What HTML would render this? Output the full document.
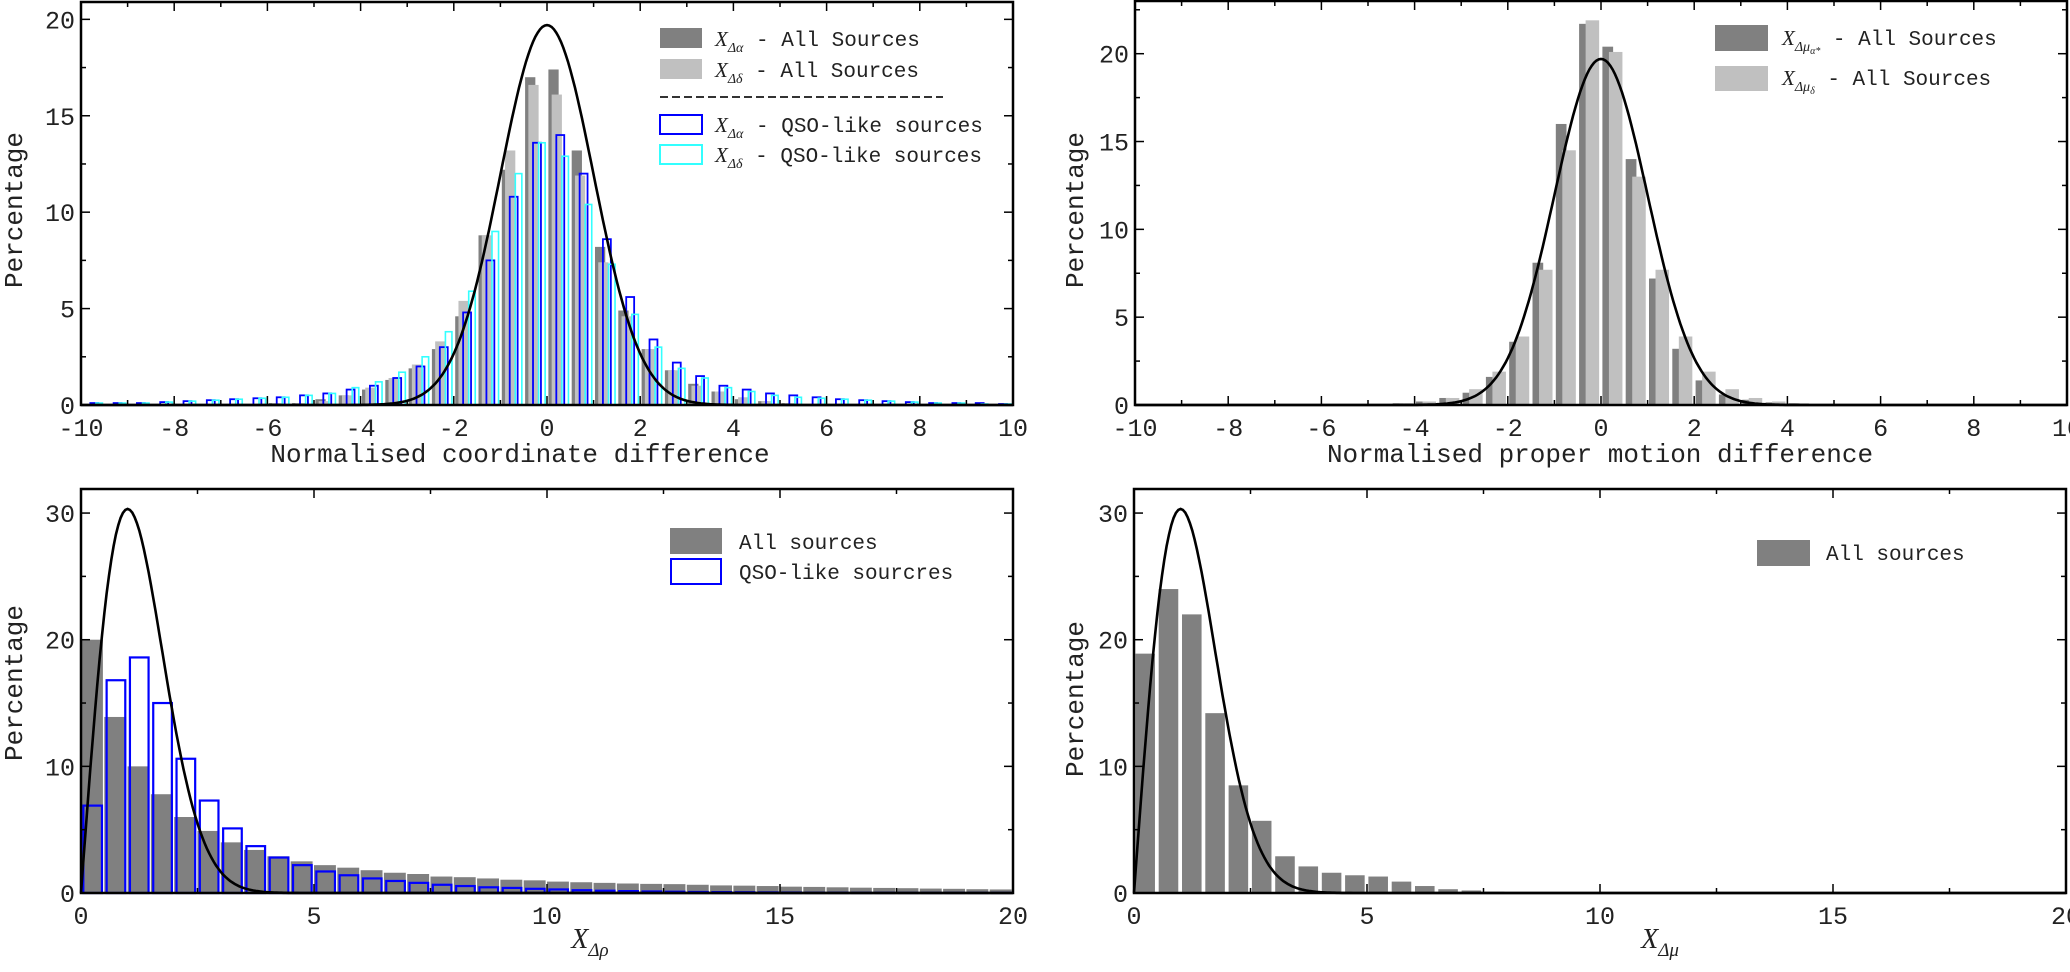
<!DOCTYPE html>
<html><head><meta charset="utf-8"><style>
html,body{margin:0;padding:0;background:#fff}
svg{display:block}
text{font-family:"Liberation Mono",monospace;fill:#222}
.tick{font-size:25px}
.lab{font-size:26px}
.leg{font-size:21px}
.it{font-family:"Liberation Serif",serif;font-style:italic}
</style></head><body>
<svg id="fig" width="2070" height="972" viewBox="0 0 2070 972" xmlns="http://www.w3.org/2000/svg"></svg>
<script>
// ---------- data ----------
const bins1Start = -10;
const p1Dark  = [0.05,0.05,0.05,0.05,0.05,0.05,0.05,0.05,0.1,0.1,0.3,0.5,0.8,1.3,1.9,2.9,4.6,8.8,12.2,17.0,17.4,13.2,8.2,4.9,2.9,1.8,1.1,0.7,0.3,0.2,0.1,0.05,0.05,0.05,0.05,0.05,0.05,0.05,0.05,0.05];
const p1Light = [0.05,0.05,0.05,0.05,0.05,0.05,0.05,0.05,0.1,0.1,0.2,0.5,0.9,1.4,2.1,3.3,5.4,8.8,13.2,16.6,16.1,11.9,7.4,4.6,2.9,1.8,1.0,0.7,0.4,0.2,0.1,0.05,0.05,0.05,0.05,0.05,0.05,0.05,0.05,0.05];
const p1Blue  = [0.1,0.1,0.1,0.15,0.2,0.25,0.3,0.35,0.4,0.5,0.6,0.8,1.0,1.4,2.0,3.0,4.8,7.5,10.8,13.6,14.0,12.0,8.6,5.6,3.4,2.2,1.5,1.0,0.8,0.6,0.5,0.4,0.3,0.25,0.2,0.15,0.1,0.1,0.1,0.05];
const p1Cyan  = [0.1,0.1,0.1,0.15,0.2,0.25,0.3,0.35,0.4,0.5,0.6,0.9,1.2,1.7,2.5,3.8,5.9,9.0,12.0,13.6,12.9,10.4,7.3,4.7,3.0,1.9,1.4,0.9,0.7,0.5,0.4,0.35,0.3,0.25,0.2,0.15,0.1,0.1,0.05,0.05];
const p2Dark  = [0,0,0,0,0,0,0,0,0,0,0.05,0.1,0.2,0.4,0.7,1.6,3.6,8.1,16.0,21.7,20.4,14.0,7.2,3.2,1.4,0.6,0.3,0.15,0.1,0.05,0,0,0,0,0,0,0,0,0,0];
const p2Light = [0,0,0,0,0,0,0,0,0,0,0.05,0.1,0.2,0.4,0.9,1.9,3.9,7.7,14.5,21.9,20.1,13.0,7.7,3.9,1.9,0.9,0.4,0.2,0.1,0.05,0,0,0,0,0,0,0,0,0,0];
const p3Gray  = [20.0,13.9,10.0,7.8,6.0,4.9,4.0,3.4,2.9,2.5,2.2,2.0,1.8,1.6,1.5,1.3,1.25,1.15,1.05,1.0,0.9,0.85,0.8,0.75,0.72,0.7,0.65,0.6,0.58,0.55,0.5,0.48,0.45,0.42,0.4,0.38,0.35,0.33,0.3,0.28];
const p3Blue  = [6.9,16.8,18.6,15.0,10.6,7.3,5.1,3.7,2.8,2.2,1.7,1.4,1.15,0.95,0.8,0.65,0.55,0.45,0.4,0.33,0.28,0.22,0.18,0.15,0.12,0.1,0.08,0.07,0.06,0.05,0.04,0.03,0.03,0.02,0.02,0.01,0.01,0.01,0.01,0.01];
const p4Gray  = [18.9,24.0,22.0,14.2,8.5,5.7,2.9,2.1,1.6,1.4,1.3,0.9,0.55,0.3,0.2,0.1,0.08,0.05,0,0,0,0,0,0,0,0,0,0,0,0,0,0,0,0,0,0,0,0,0,0];
const gaussPeak = 19.7, gaussSigma = 1.0;
const rayScale = 50;
const xTicks1 = [-10,-8,-6,-4,-2,0,2,4,6,8,10];
const yTicks1 = [0,5,10,15,20];
const xTicks3 = [0,5,10,15,20];
const yTicks3 = [0,10,20,30];

const NS = "http://www.w3.org/2000/svg";
const fig = document.getElementById('fig');
function el(tag, attrs, parent){const e=document.createElementNS(NS,tag);for(const k in attrs)e.setAttribute(k,attrs[k]);(parent||fig).appendChild(e);return e;}

function makePanel(name, L, R, T, B, xmin, xmax, ymin, ymax){
  const g = el('g',{});
  
  
  const sx = v => L + (v - xmin) / (xmax - xmin) * (R - L);
  const sy = v => B - (v - ymin) / (ymax - ymin) * (B - T);
  return {g, sx, sy, L, R, T, B};
}
function bars(p, vals, x0, bw, off, w, style, nm){
  const g = el('g',{}, p.g);
  
  
  vals.forEach((v,i)=>{
    if(v<=0) return;
    const xa = p.sx(x0 + i*bw + off), xb = p.sx(x0 + i*bw + off + w);
    const r = el('rect',{x:xa,y:p.sy(v),width:xb-xa,height:p.sy(0)-p.sy(v)},g);
    for(const k in style) r.setAttribute(k,style[k]);
    
    
  });
}
function curve(p, f, a, b, nm){
  let d='';
  for(let i=0;i<=400;i++){const x=a+(b-a)*i/400;d+=(i?'L':'M')+p.sx(x).toFixed(1)+','+p.sy(f(x)).toFixed(1);}
  const c = el('path',{d:d,fill:'none',stroke:'#000','stroke-width':2.6},p.g);
  
  
}
function axes(p, xt, yt, xMinor, yMinor, xmin, xmax, ymin, ymax){
  const g = el('g',{}, p.g);
  
  
  el('rect',{x:p.L,y:p.T,width:p.R-p.L,height:p.B-p.T,fill:'none',stroke:'#000','stroke-width':2.5},g);
  for(let v=xmin; v<=xmax+1e-9; v+=xMinor){
    const major = xt.some(t=>Math.abs(t-v)<1e-9), len = major?9:5, x=p.sx(v);
    el('line',{x1:x,y1:p.B,x2:x,y2:p.B-len,stroke:'#000','stroke-width':1.5},g);
    el('line',{x1:x,y1:p.T,x2:x,y2:p.T+len,stroke:'#000','stroke-width':1.5},g);
  }
  for(let v=ymin; v<=ymax+1e-9; v+=yMinor){
    const major = yt.some(t=>Math.abs(t-v)<1e-9), len = major?9:5, y=p.sy(v);
    el('line',{x1:p.L,y1:y,x2:p.L+len,y2:y,stroke:'#000','stroke-width':1.5},g);
    el('line',{x1:p.R,y1:y,x2:p.R-len,y2:y,stroke:'#000','stroke-width':1.5},g);
  }
  xt.forEach(t=>{
    const tx = el('text',{x:p.sx(t),y:p.B+31,'text-anchor':'middle',class:'tick'},g);
    tx.textContent = t;  
  });
  yt.forEach(t=>{
    const tx = el('text',{x:p.L-6,y:p.sy(t)+9,'text-anchor':'end',class:'tick'},g);
    tx.textContent = t;  
  });
}
function ylabel(p, x, y){
  const t = el('text',{x:0,y:0,transform:`translate(${x},${y}) rotate(-90)`,'text-anchor':'middle',class:'lab'},p.g);
  t.textContent='Percentage';
   
}
function legBox(p, x, y, w, h, fill, stroke, nm){
  const r = el('rect',{x:x,y:y,width:w,height:h,fill:fill,stroke:stroke,'stroke-width':stroke==='none'?0:2},p.g);
   
}
function legText(p, x, y, html, nm){
  const t = el('text',{x:x,y:y,class:'leg'},p.g);
  t.innerHTML = html;
   
}
const gauss = x => gaussPeak*Math.exp(-x*x/(2*gaussSigma*gaussSigma));
const ray = x => rayScale*x*Math.exp(-x*x/2);

// ---------- panel 1 ----------
const p1 = makePanel('coordinate-panel',81,1013,2,405,-10,10,0,20.9);
bars(p1,p1Dark,bins1Start,0.5,0.03,0.22,{fill:'#808080'},'dark-bars');
bars(p1,p1Light,bins1Start,0.5,0.10,0.22,{fill:'#c0c0c0'},'light-bars');
bars(p1,p1Blue,bins1Start,0.5,0.20,0.17,{fill:'none',stroke:'#0000ff','stroke-width':1.8},'qso-alpha-bars');
bars(p1,p1Cyan,bins1Start,0.5,0.32,0.14,{fill:'none',stroke:'#33ffff','stroke-width':1.6},'qso-delta-bars');
curve(p1,gauss,-10,10,'gaussian-curve');
axes(p1,xTicks1,yTicks1,1,2.5,-10,10,0,20);
ylabel(p1,22,210);
(function(){const t=el('text',{x:520,y:462,'text-anchor':'middle',class:'lab'},p1.g);t.textContent='Normalised coordinate difference';})();
legBox(p1,660,28,42,20,'#808080','none','legend-swatch-dark');
legText(p1,715,46,'<tspan class="it">X</tspan><tspan class="it" font-size="14" dy="6">Δα</tspan><tspan dy="-6"> - All Sources</tspan>','legend-entry');
legBox(p1,660,59,42,20,'#c0c0c0','none','legend-swatch-light');
legText(p1,715,77,'<tspan class="it">X</tspan><tspan class="it" font-size="14" dy="6">Δδ</tspan><tspan dy="-6"> - All Sources</tspan>','legend-entry');
(function(){const l=el('line',{x1:660,y1:97,x2:943,y2:97,stroke:'#333','stroke-width':2,'stroke-dasharray':'8,4'},p1.g);})();
legBox(p1,660,115,42,19,'none','#0000ff','legend-swatch-blue');
legText(p1,715,132,'<tspan class="it">X</tspan><tspan class="it" font-size="14" dy="6">Δα</tspan><tspan dy="-6"> - QSO-like sources</tspan>','legend-entry');
legBox(p1,660,145,42,19,'none','#33ffff','legend-swatch-cyan');
legText(p1,715,162,'<tspan class="it">X</tspan><tspan class="it" font-size="14" dy="6">Δδ</tspan><tspan dy="-6"> - QSO-like sources</tspan>','legend-entry');

// ---------- panel 2 ----------
const p2 = makePanel('proper-motion-panel',1135,2067,1,405,-10,10,0,23);
bars(p2,p2Dark,bins1Start,0.5,0.03,0.23,{fill:'#808080'},'dark-bars');
bars(p2,p2Light,bins1Start,0.5,0.17,0.29,{fill:'#c0c0c0'},'light-bars');
curve(p2,gauss,-10,10,'gaussian-curve');
axes(p2,xTicks1,yTicks1,1,2.5,-10,10,0,22.5);
ylabel(p2,1083,210);
(function(){const t=el('text',{x:1600,y:462,'text-anchor':'middle',class:'lab'},p2.g);t.textContent='Normalised proper motion difference';})();
legBox(p2,1715,25,53,26,'#808080','none','legend-swatch-dark');
legText(p2,1782,45,'<tspan class="it">X</tspan><tspan class="it" font-size="14" dy="6">Δμ</tspan><tspan class="it" font-size="10" dy="3">α*</tspan><tspan dy="-9"> - All Sources</tspan>','legend-entry');
legBox(p2,1715,66,53,25,'#c0c0c0','none','legend-swatch-light');
legText(p2,1782,85,'<tspan class="it">X</tspan><tspan class="it" font-size="14" dy="6">Δμ</tspan><tspan class="it" font-size="10" dy="3">δ</tspan><tspan dy="-9"> - All Sources</tspan>','legend-entry');

// ---------- panel 3 ----------
const p3 = makePanel('rho-panel',81,1013,489,893,0,20,0,31.9);
bars(p3,p3Gray,0,0.5,0.0,0.47,{fill:'#808080'},'all-sources-bars');
bars(p3,p3Blue,0,0.5,0.05,0.40,{fill:'none',stroke:'#0000ff','stroke-width':2.2},'qso-bars');
curve(p3,ray,0,20,'rayleigh-curve');
axes(p3,xTicks3,yTicks3,2.5,5,0,20,0,30);
ylabel(p3,22,683);
(function(){const t=el('text',{x:590,y:948,'text-anchor':'middle',class:'it','font-size':'28'},p3.g);t.innerHTML='X<tspan font-size="19" dy="8">Δρ</tspan>';})();
legBox(p3,670,528,52,26,'#808080','none','legend-swatch-gray');
legText(p3,739,549,'All sources','legend-entry');
legBox(p3,671,559,50,25,'none','#0000ff','legend-swatch-blue');
legText(p3,739,579,'QSO-like sourcres','legend-entry');

// ---------- panel 4 ----------
const p4 = makePanel('mu-panel',1134,2066,489,893,0,20,0,31.9);
bars(p4,p4Gray,0,0.5,0.03,0.42,{fill:'#808080'},'all-sources-bars');
curve(p4,ray,0,20,'rayleigh-curve');
axes(p4,xTicks3,yTicks3,2.5,5,0,20,0,30);
ylabel(p4,1083,699);
(function(){const t=el('text',{x:1660,y:948,'text-anchor':'middle',class:'it','font-size':'28'},p4.g);t.innerHTML='X<tspan font-size="19" dy="8">Δμ</tspan>';})();
legBox(p4,1757,540,53,26,'#808080','none','legend-swatch-gray');
legText(p4,1826,560,'All sources','legend-entry');
</script>
</body></html>
